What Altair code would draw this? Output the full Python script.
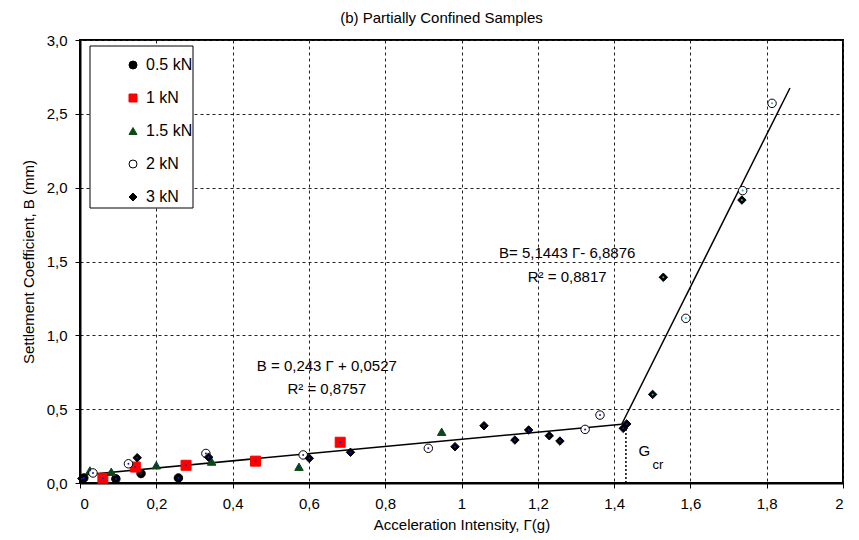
import altair as alt
import pandas as pd

FONT = "Liberation Sans"

series_names = ["0.5 kN", "1 kN", "1.5 kN", "2 kN", "3 kN"]
series_shapes = ["circle", "square", "triangle-up", "circle", "diamond"]
series_fill = ["#000000", "#ff0000", "#0b4a12", "#ffffff", "#000000"]
series_stroke = ["#000000", "#ff0000", "#0b4a12", "#000000", "#000000"]

# 0.5 kN
x_05 = [0.010, 0.094, 0.160, 0.258]
y_05 = [0.034, 0.028, 0.064, 0.034]
# 1 kN
x_1 = [0.060, 0.145, 0.278, 0.460, 0.682]
y_1 = [0.032, 0.108, 0.120, 0.148, 0.276]
# 1.5 kN
x_15 = [0.026, 0.082, 0.200, 0.345, 0.574, 0.948]
y_15 = [0.085, 0.076, 0.120, 0.145, 0.110, 0.347]
# 2 kN
x_2 = [0.034, 0.127, 0.330, 0.585, 0.913, 1.324, 1.363, 1.588, 1.737, 1.814]
y_2 = [0.068, 0.130, 0.200, 0.190, 0.235, 0.363, 0.460, 1.115, 1.980, 2.571]
# 3 kN
x_3 = [0.005, 0.150, 0.337, 0.601, 0.709, 0.983, 1.059, 1.140, 1.176, 1.230,
       1.258, 1.424, 1.433, 1.501, 1.529, 1.735]
y_3 = [0.030, 0.171, 0.175, 0.167, 0.208, 0.246, 0.388, 0.291, 0.359, 0.320,
       0.284, 0.370, 0.400, 0.600, 1.393, 1.916]

# regression lines (read end points)
flat_x = [0.0, 1.42]
flat_y = [0.053, 0.398]
steep_x = [1.42, 1.861]
steep_y = [0.398, 2.675]
gcr_x = 1.431
gcr_y = 0.37

x_ticks = [0, 0.2, 0.4, 0.6, 0.8, 1.0, 1.2, 1.4, 1.6, 1.8, 2.0]
y_ticks = [0, 0.5, 1.0, 1.5, 2.0, 2.5, 3.0]

rows = []
for name, xs, ys in zip(series_names, [x_05, x_1, x_15, x_2, x_3], [y_05, y_1, y_15, y_2, y_3]):
    for a, b in zip(xs, ys):
        rows.append({"series": name, "x": a, "y": b})
df = pd.DataFrame(rows)

xs = alt.Scale(domain=[0, 2], nice=False, zero=False)
ys = alt.Scale(domain=[0, 3], nice=False, zero=False)

x_axis = alt.Axis(values=x_ticks, title="Acceleration Intensity, Γ(g)",
                  labelExpr="replace(format(datum.value, '.1~f'), '.', ',')",
                  tickSize=5, labelPadding=8, titlePadding=6)
y_axis = alt.Axis(values=y_ticks, title="Settlement Coefficient, B (mm)",
                  labelExpr="replace(format(datum.value, '.1f'), '.', ',')",
                  tickSize=5, labelPadding=8, titlePadding=10)

X = alt.X("x:Q", scale=xs, axis=x_axis)
Y = alt.Y("y:Q", scale=ys, axis=y_axis)

box = alt.Chart(pd.DataFrame({"a": [0]})).mark_rect(
    fill="white", stroke="black", strokeWidth=1
).encode(x=alt.value(10), x2=alt.value(113), y=alt.value(6), y2=alt.value(168))

flat = alt.Chart(pd.DataFrame({"x": flat_x, "y": flat_y})).mark_line(
    color="black", strokeWidth=1.5).encode(x=X, y=Y)
steep = alt.Chart(pd.DataFrame({"x": steep_x, "y": steep_y})).mark_line(
    color="black", strokeWidth=1.5).encode(x=X, y=Y)
gcr = alt.Chart(pd.DataFrame({"x": [gcr_x], "y": [0.0], "y2": [gcr_y]})).mark_rule(
    color="black", strokeWidth=1.5, strokeDash=[2, 2]).encode(x=X, y=Y, y2="y2:Q")

leg = alt.Legend(orient="none", legendX=45, legendY=17, padding=0, rowPadding=17,
                 labelFont=FONT, labelFontSize=16, labelColor="black", zindex=5,
                 labelOffset=5, symbolSize=64, symbolStrokeWidth=1)
points = alt.Chart(df).mark_point(filled=True, opacity=1, strokeWidth=1).encode(
    x=X, y=Y,
    shape=alt.Shape("series:N", title="", scale=alt.Scale(domain=series_names, range=series_shapes),
                    legend=leg),
    fill=alt.Fill("series:N", title="", scale=alt.Scale(domain=series_names, range=series_fill),
                  legend=leg),
    stroke=alt.Stroke("series:N", title="", scale=alt.Scale(domain=series_names, range=series_stroke),
                      legend=leg),
    size=alt.condition("datum.series == '1 kN'", alt.value(100), alt.value(72)),
)
dots = alt.Chart(df).mark_circle(size=4, opacity=1).encode(
    x=X, y=Y,
    color=alt.condition(alt.datum.x > 1.45, alt.value("#18b8dc"), alt.value("#1515d0")),
)

ann = pd.DataFrame({
    "x": [0.647, 0.647, 1.277, 1.277],
    "y": [0.79, 0.636, 1.557, 1.395],
    "t": ["B = 0,243 Γ + 0,0527", "R² = 0,8757", "B= 5,1443 Γ- 6,8876", "R² = 0,8817"],
})
texts = alt.Chart(ann).mark_text(font=FONT, fontSize=15, color="black", align="center",
                                 baseline="middle").encode(x=X, y=Y, text="t:N")
g_txt = alt.Chart(pd.DataFrame({"x": [1.479], "y": [0.22], "t": ["G"]})).mark_text(
    font=FONT, fontSize=15, color="black", align="center", baseline="middle").encode(x=X, y=Y, text="t:N")
cr_txt = alt.Chart(pd.DataFrame({"x": [1.515], "y": [0.12], "t": ["cr"]})).mark_text(
    font=FONT, fontSize=13, color="black", align="center", baseline="middle").encode(x=X, y=Y, text="t:N")

chart = alt.layer(box, flat, steep, gcr, points, dots, texts, g_txt, cr_txt).properties(
    width=763, height=443,
    title=alt.TitleParams("(b) Partially Confined Samples", font=FONT, fontSize=15,
                          fontWeight="normal", anchor="middle", dx=-20, offset=7, color="black"),
    padding={"left": 72, "top": 32, "right": 8, "bottom": 50},
    autosize="none",
).configure_view(stroke="black", strokeWidth=2).configure_axis(
    domainColor="black", domainWidth=2, tickColor="black", tickWidth=1,
    gridColor="#222222", gridDash=[3, 3], gridWidth=1,
    labelFont=FONT, labelFontSize=15, labelColor="black",
    titleFont=FONT, titleFontSize=15, titleFontWeight="normal", titleColor="black",
)

chart.save("out.html", embed_options={"renderer": "svg", "actions": False})
